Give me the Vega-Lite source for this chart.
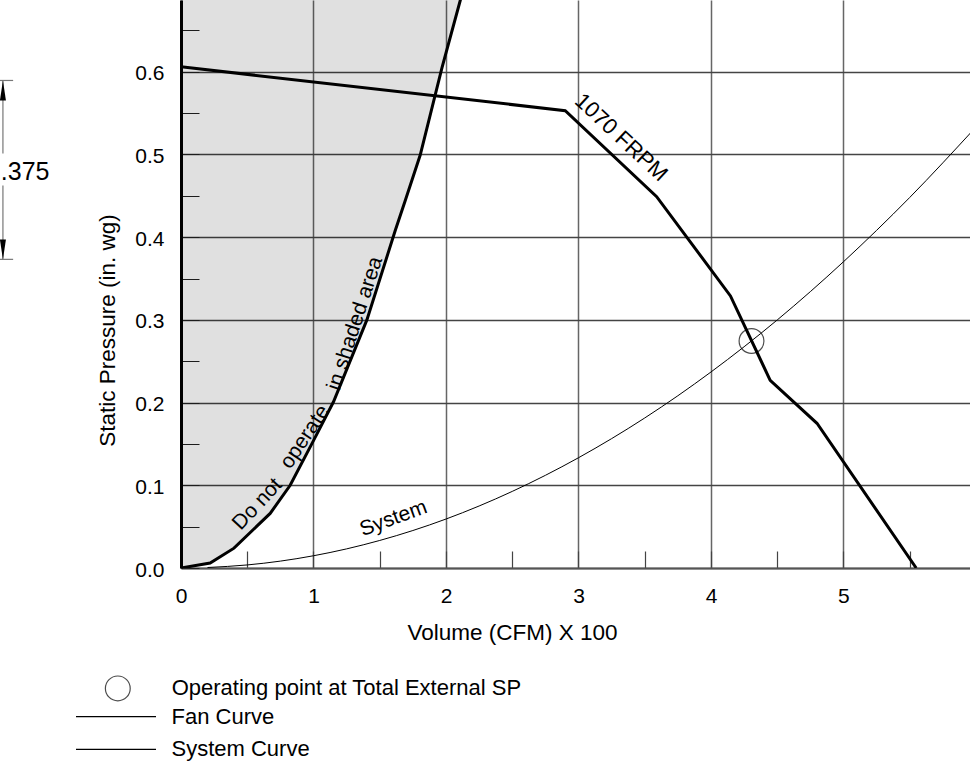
{
  "$schema": "https://vega.github.io/schema/vega-lite/v6.json",
  "width": 789,
  "height": 568,
  "autosize": {"type": "none"},
  "padding": {"left": 181, "top": 0, "right": 0, "bottom": 211},
  "background": "white",
  "config": {"font": "Liberation Sans", "view": {"stroke": null}},
  "datasets": {
    "boundary": [
      {"x": 0, "y": 0},
      {"x": 0.22, "y": 0.006},
      {"x": 0.4, "y": 0.024},
      {"x": 0.673, "y": 0.066},
      {"x": 0.824, "y": 0.1},
      {"x": 1.0, "y": 0.154},
      {"x": 1.151, "y": 0.201},
      {"x": 1.403, "y": 0.3},
      {"x": 1.617, "y": 0.408},
      {"x": 1.692, "y": 0.444},
      {"x": 1.805, "y": 0.499},
      {"x": 1.97, "y": 0.605},
      {"x": 2.108, "y": 0.6865},
      {"x": 2.14, "y": 0.705}
    ],
    "fan": [
      {"x": 0, "y": 0.606, "curve": "Fan Curve"},
      {"x": 2.9, "y": 0.553, "curve": "Fan Curve"},
      {"x": 3.59, "y": 0.449, "curve": "Fan Curve"},
      {"x": 4.147, "y": 0.329, "curve": "Fan Curve"},
      {"x": 4.447, "y": 0.227, "curve": "Fan Curve"},
      {"x": 4.8, "y": 0.175, "curve": "Fan Curve"},
      {"x": 5.549, "y": 0.0, "curve": "Fan Curve"}
    ],
    "system": [
      {"x": 0.2, "y": 0.0006, "curve": "System Curve"},
      {"x": 0.5, "y": 0.0037, "curve": "System Curve"},
      {"x": 1.0, "y": 0.0148, "curve": "System Curve"},
      {"x": 1.5, "y": 0.0333, "curve": "System Curve"},
      {"x": 2.0, "y": 0.0592, "curve": "System Curve"},
      {"x": 2.5, "y": 0.0926, "curve": "System Curve"},
      {"x": 3.0, "y": 0.1333, "curve": "System Curve"},
      {"x": 3.5, "y": 0.1814, "curve": "System Curve"},
      {"x": 4.0, "y": 0.237, "curve": "System Curve"},
      {"x": 4.5, "y": 0.2999, "curve": "System Curve"},
      {"x": 5.0, "y": 0.3703, "curve": "System Curve"},
      {"x": 5.5, "y": 0.448, "curve": "System Curve"},
      {"x": 6.0, "y": 0.5332, "curve": "System Curve"}
    ],
    "op": [
      {"x": 4.306, "y": 0.2745, "label": "Operating point at Total External SP"}
    ]
  },
  "data": {"name": "op"},
  "layer": [
    {
      "data": {"name": "boundary"},
      "mark": {"type": "area", "color": "black", "opacity": 0.12, "clip": true},
      "encoding": {
        "x": {
          "field": "x", "type": "quantitative",
          "scale": {"domain": [0, 5.955], "nice": false, "zero": false},
          "axis": {
            "values": [0, 0.25, 0.5, 0.75, 1, 1.25, 1.5, 1.75, 2, 2.25, 2.5, 2.75, 3, 3.25, 3.5, 3.75, 4, 4.25, 4.5, 4.75, 5, 5.25, 5.5, 5.75],
            "grid": true, "gridColor": "#666", "gridWidth": 1.5,
            "gridOpacity": {"condition": {"test": "datum.value % 1 !== 0", "value": 0}, "value": 1},
            "domain": true, "domainColor": "#555", "domainWidth": 2.2,
            "ticks": true, "tickSize": -17, "tickColor": "#444", "tickWidth": 1.2,
            "labelExpr": "datum.value % 1 === 0 ? format(datum.value, 'd') : ''",
            "labelFontSize": 21, "labelColor": "black", "labelPadding": 34.5,
            "labelFlush": false, "labelOverlap": false, "labelBound": false,
            "title": "Volume (CFM) X 100", "titleFontSize": 22.5, "titleFontWeight": "normal", "titleColor": "black",
            "titleX": 331, "titleY": 71, "titleBaseline": "alphabetic", "titleAlign": "center"
          }
        },
        "y": {
          "field": "y", "type": "quantitative",
          "scale": {"domain": [0, 0.6868], "nice": false, "zero": false},
          "axis": {
            "values": [0, 0.025, 0.05, 0.075, 0.1, 0.125, 0.15, 0.175, 0.2, 0.225, 0.25, 0.275, 0.3, 0.325, 0.35, 0.375, 0.4, 0.425, 0.45, 0.475, 0.5, 0.525, 0.55, 0.575, 0.6, 0.625, 0.65, 0.675],
            "grid": true, "gridColor": "#444", "gridWidth": 1.5,
            "gridOpacity": {"condition": {"test": "abs(datum.value * 10 - round(datum.value * 10)) > 0.001", "value": 0}, "value": 1},
            "domain": true, "domainColor": "black", "domainWidth": 3,
            "ticks": true, "tickSize": -18, "tickColor": "#222", "tickWidth": 1,
            "labelExpr": "abs(datum.value * 10 - round(datum.value * 10)) < 0.001 ? format(datum.value, '.1f') : ''",
            "labelFontSize": 21, "labelColor": "black", "labelPadding": 35, "labelOffset": 2,
            "labelFlush": false, "labelOverlap": false, "labelBound": false,
            "title": "Static Pressure (in. wg)", "titleFontSize": 22.5, "titleFontWeight": "normal", "titleColor": "black",
            "titleX": -67, "titleY": 330, "titleBaseline": "alphabetic", "titleAlign": "center", "titleAngle": -90
          }
        },
        "y2": {"datum": 0.75}
      }
    },
    {
      "data": {"name": "boundary"},
      "mark": {"type": "line", "color": "black", "strokeWidth": 3, "clip": true},
      "encoding": {
        "x": {"field": "x", "type": "quantitative"},
        "y": {"field": "y", "type": "quantitative"}
      }
    },
    {
      "data": {"name": "system"},
      "mark": {"type": "line", "strokeWidth": 1, "interpolate": "monotone", "clip": true},
      "encoding": {
        "x": {"field": "x", "type": "quantitative"},
        "y": {"field": "y", "type": "quantitative"},
        "stroke": {
          "field": "curve", "type": "nominal",
          "scale": {"domain": ["Fan Curve", "System Curve"], "range": ["black", "black"]},
          "legend": {
            "title": null, "orient": "none", "legendX": -106, "legendY": 706.2, "direction": "vertical",
            "symbolType": "stroke", "symbolSize": 6400, "symbolStrokeWidth": 1.2, "clipHeight": 21,
            "rowPadding": 9.6, "padding": 0, "labelOffset": 14.5, "labelFontSize": 22, "labelColor": "black",
            "labelLimit": 600,
            "encode": {"symbols": {"update": {"stroke": {"value": "#808080"}, "strokeWidth": {"value": 1.2}}}}
          }
        }
      }
    },
    {
      "data": {"name": "fan"},
      "mark": {"type": "line", "strokeWidth": 3, "clip": true},
      "encoding": {
        "x": {"field": "x", "type": "quantitative"},
        "y": {"field": "y", "type": "quantitative"},
        "stroke": {"field": "curve", "type": "nominal"}
      }
    },
    {
      "mark": {"type": "point", "filled": false, "color": "black", "strokeWidth": 1.2, "size": 616},
      "encoding": {
        "x": {"field": "x", "type": "quantitative"},
        "y": {"field": "y", "type": "quantitative"},
        "shape": {
          "field": "label", "type": "nominal",
          "scale": {"range": ["circle"]},
          "legend": {
            "title": null, "orient": "none", "legendX": -76.7, "legendY": 674.9, "direction": "vertical",
            "symbolSize": 616, "symbolStrokeColor": "black", "symbolFillColor": "transparent", "symbolStrokeWidth": 1.2,
            "padding": 0, "labelOffset": 40.4, "labelFontSize": 22, "labelColor": "black", "labelLimit": 700
          }
        }
      }
    },
    {
      "mark": {"type": "text", "text": "1070 FRPM", "angle": 43, "fontSize": 22, "align": "center", "baseline": "middle", "color": "black"},
      "encoding": {"x": {"datum": 3.322}, "y": {"datum": 0.5207}}
    },
    {
      "mark": {"type": "text", "text": "System", "angle": -20, "fontSize": 21, "align": "center", "baseline": "middle", "color": "black"},
      "encoding": {"x": {"datum": 1.604}, "y": {"datum": 0.0597}}
    },
    {
      "mark": {"type": "text", "text": "Do not", "angle": -47, "fontSize": 21, "align": "center", "baseline": "middle", "color": "black"},
      "encoding": {"x": {"datum": 0.578}, "y": {"datum": 0.077}}
    },
    {
      "mark": {"type": "text", "text": "operate", "angle": -56, "fontSize": 21, "align": "center", "baseline": "middle", "color": "black"},
      "encoding": {"x": {"datum": 0.937}, "y": {"datum": 0.1584}}
    },
    {
      "mark": {"type": "text", "text": "in shaded area", "angle": -72, "fontSize": 21, "align": "center", "baseline": "middle", "color": "black"},
      "encoding": {"x": {"datum": 1.315}, "y": {"datum": 0.2955}}
    },
    {
      "mark": {"type": "rule", "color": "#777", "strokeWidth": 1.2},
      "encoding": {"x": {"datum": -1.344}, "y": {"datum": 0.5895}, "y2": {"datum": 0.5013}}
    },
    {
      "mark": {"type": "rule", "color": "#777", "strokeWidth": 1.2},
      "encoding": {"x": {"datum": -1.344}, "y": {"datum": 0.4626}, "y2": {"datum": 0.3732}}
    },
    {
      "mark": {"type": "rule", "color": "#777", "strokeWidth": 1.2},
      "encoding": {"x": {"datum": -1.4}, "x2": {"datum": -1.267}, "y": {"datum": 0.5895}}
    },
    {
      "mark": {"type": "rule", "color": "#777", "strokeWidth": 1.2},
      "encoding": {"x": {"datum": -1.4}, "x2": {"datum": -1.267}, "y": {"datum": 0.3732}}
    },
    {
      "mark": {"type": "point", "shape": "M0,-1L0.3,1L-0.3,1Z", "size": 400, "filled": true, "color": "black", "opacity": 1},
      "encoding": {"x": {"datum": -1.344}, "y": {"datum": 0.5774}}
    },
    {
      "mark": {"type": "point", "shape": "M0,1L0.3,-1L-0.3,-1Z", "size": 400, "filled": true, "color": "black", "opacity": 1},
      "encoding": {"x": {"datum": -1.344}, "y": {"datum": 0.3851}}
    },
    {
      "mark": {"type": "text", "text": ".375", "fontSize": 25, "align": "left", "baseline": "middle", "color": "black"},
      "encoding": {"x": {"datum": -1.36}, "y": {"datum": 0.4785}}
    }
  ]
}
